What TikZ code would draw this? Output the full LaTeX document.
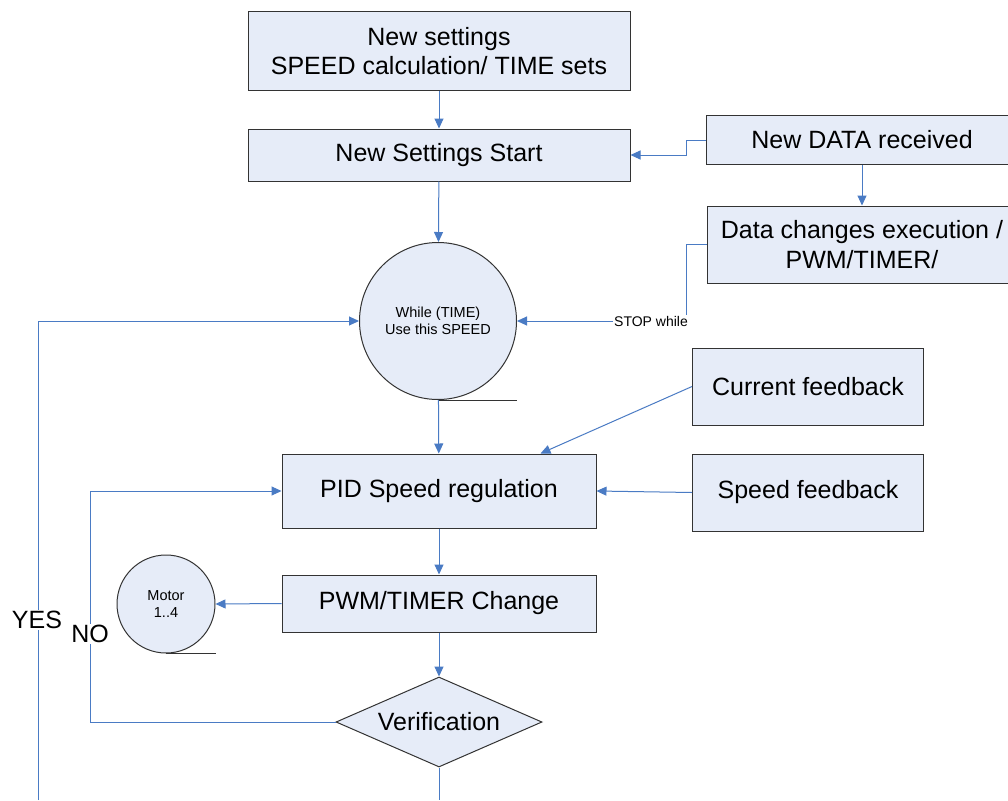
\documentclass[tikz,border=0pt]{standalone}
\usepackage{fontspec}
\setmainfont{Liberation Sans}
\usetikzlibrary{arrows.meta,shapes.geometric}
\definecolor{boxfill}{RGB}{230,236,248}
\definecolor{connblue}{RGB}{74,123,196}
\begin{document}
\begin{tikzpicture}[x=1pt,y=-1pt,
  box/.style={draw=black!80, fill=boxfill, line width=1pt, inner sep=0pt, align=center,
    font=\fontsize{25}{29.5}\selectfont},
  roundbox/.style={circle, draw=black!80, fill=boxfill, line width=1pt, inner sep=0pt, align=center,
    font=\fontsize{14.5}{17}\selectfont},
  conn/.style={draw=connblue, line width=1pt, -{Triangle[length=10pt,width=9pt]}},
  plainline/.style={draw=connblue, line width=1pt},
  tail/.style={draw=black!80, line width=1pt},
  lbl/.style={inner sep=1pt, font=\fontsize{14}{16}\selectfont},
  biglbl/.style={fill=white, inner sep=1pt, font=\fontsize{25}{29}\selectfont}]
\useasboundingbox (0,0) rectangle (1008,800);
\fill[white] (0,0) rectangle (1008,800);

\node[box, minimum width=382pt, minimum height=78pt] (set) at (439,51) {New settings\\SPEED calculation/ TIME sets};
\node[box, minimum width=382pt, minimum height=52pt] (start) at (439,155) {New Settings Start};
\node[box, minimum width=312pt, minimum height=49pt] (data) at (862,140) {New DATA received};
\node[box, minimum width=310pt, minimum height=77pt] (chg) at (862,244.5) {Data changes execution /\\PWM/TIMER/};
\node[roundbox, minimum size=157pt] (while) at (438,321) {While (TIME)\\Use this SPEED};
\node[box, minimum width=314pt, minimum height=74pt] (pid) at (439,491) {PID Speed regulation};
\node[box, minimum width=231pt, minimum height=77pt] (cur) at (808,386.5) {Current feedback};
\node[box, minimum width=231pt, minimum height=77pt] (spd) at (808,492.5) {Speed feedback};
\node[box, minimum width=314pt, minimum height=57pt] (pwm) at (439,603.5) {PWM/TIMER Change};
\node[roundbox, minimum size=98pt] (motor) at (166,604) {Motor\\1..4};
\node[diamond, aspect=2.29, draw=black!80, fill=boxfill, line width=1pt, inner sep=0pt,
  minimum width=206pt, minimum height=90pt, font=\fontsize{25}{29}\selectfont] (ver) at (439,722) {Verification};
\node[lbl] (stop) at (651,321) {STOP while};

\coordinate (ybot) at (38,800);
\coordinate (vbot) at (439,800);

\draw[tail] (while.south) -- ++(79,0);
\draw[tail] (motor.south) -- ++(50,0);

\draw[conn] (set) -- (start);
\draw[conn] (data.west) -- ++(-19,0) |- (start.east);
\draw[conn] (data) -- (chg);
\draw[plainline] (chg.west) -| ([xshift=-3pt]stop.north east);
\draw[conn] (stop.west) -- (while.east);
\draw[conn] (start) -- (while);
\draw[conn] (ybot) |- (while.west);
\draw[conn] (while) -- (pid);
\draw[conn] (cur.west) -- ([xshift=-56pt]pid.north east);
\draw[conn] (spd.west) -- (pid.east);
\draw[conn] (pid) -- (pwm);
\draw[conn] (pwm.west) -- (motor.east);
\draw[conn] (pwm) -- (ver);
\draw[conn] (ver.west) -- ++(-245,0) |- (pid.west);
\draw[plainline] (ver.south) -- (vbot);

\node[biglbl] (yes) at (37,620) {YES};
\node[biglbl] (no) at (90,634) {NO};
\end{tikzpicture}
\end{document}
